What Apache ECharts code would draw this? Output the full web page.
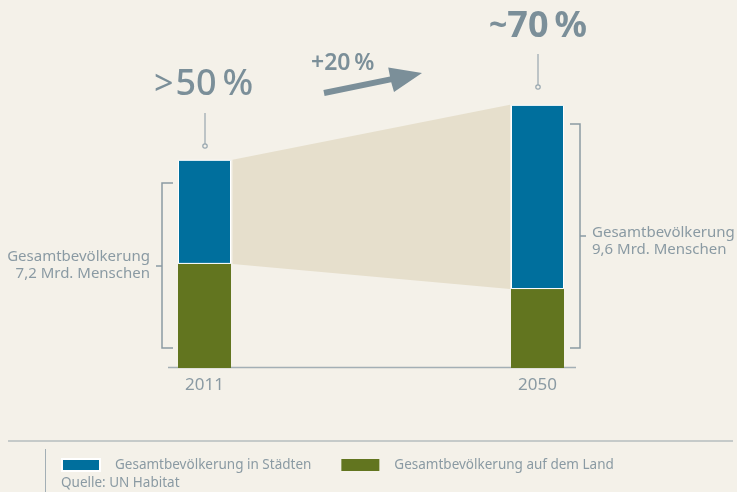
<!DOCTYPE html>
<html>
<head>
<meta charset="utf-8">
<script src="https://cdn.jsdelivr.net/npm/echarts@6/dist/echarts.min.js"></script>
<style>
  html, body { margin: 0; padding: 0; background: #f4f1e9; }
  #chart { width: 737px; height: 492px; }
</style>
</head>
<body>
<div id="chart"></div>
<script>
// Daten (Mrd. Menschen, wie im Bild gezeichnet)
const years = ['2011', '2050'];
const urban = [3.6, 6.37];
const rural = [3.6, 2.73];
const shareLabels = ['50', '70'];
const shareSigns = ['>', '~'];
const totalLabels = ['7,2 Mrd. Menschen', '9,6 Mrd. Menschen'];
const changeLabel = '+20\u2009%';
const seriesNames = ['Gesamtbevölkerung in Städten', 'Gesamtbevölkerung auf dem Land'];

const BLUE = '#006f9d';
const GREEN = '#62751f';
const BAND = '#e6dfcc';
const GREY = '#8a9aa3';
const DARK = '#7b8f99';
const BAR_W = 53;
const FONT = 'Noto Sans';

const chart = echarts.init(document.getElementById('chart'));

const option = {
  backgroundColor: '#f4f1e9',
  animation: false,
  textStyle: { fontFamily: FONT },
  grid: { left: 38, width: 666, top: 21, bottom: 124 },
  xAxis: {
    type: 'category',
    data: years,
    axisLine: { show: false },
    axisTick: { show: false },
    axisLabel: { color: GREY, fontSize: 17, margin: 9, fontFamily: FONT }
  },
  yAxis: { type: 'value', min: 0, max: 12, show: false },
  legend: {
    left: 56,
    top: 453,
    itemWidth: 38,
    itemHeight: 12,
    itemGap: 30,
    icon: 'rect',
    textStyle: { color: GREY, fontSize: 13.5, fontFamily: FONT, padding: [0, 0, 0, 10] },
    data: seriesNames
  },
  series: [
    {
      // Band zwischen den Stadt-Anteilen
      type: 'custom',
      z: 1,
      silent: true,
      data: [[0]],
      renderItem: function (params, api) {
        const a0 = api.coord([0, rural[0] + urban[0]]);
        const a1 = api.coord([0, rural[0]]);
        const b0 = api.coord([1, rural[1] + urban[1]]);
        const b1 = api.coord([1, rural[1]]);
        const x1 = a0[0] + BAR_W / 2 + 1.5;
        const x2 = b0[0] - BAR_W / 2 - 1;
        return {
          type: 'polygon',
          shape: { points: [[x1, a0[1]], [x2, b0[1]], [x2, b1[1]], [x1, a1[1]]] },
          style: { fill: BAND }
        };
      }
    },
    {
      name: seriesNames[1],
      type: 'bar',
      stack: 'pop',
      z: 2,
      barWidth: BAR_W,
      data: rural,
      itemStyle: { color: GREEN }
    },
    {
      name: seriesNames[0],
      type: 'bar',
      stack: 'pop',
      z: 3,
      barWidth: BAR_W,
      data: urban,
      itemStyle: { color: BLUE, borderColor: '#ffffff', borderWidth: 1 }
    }
  ],
  graphic: [
    // Grundlinie
    { type: 'line', shape: { x1: 168, y1: 367.5, x2: 576, y2: 367.5 }, style: { stroke: '#a3afb5', lineWidth: 1.5 } },
    // linke Klammer
    { type: 'polyline', shape: { points: [[173, 183], [162, 183], [162, 348], [173, 348]] }, style: { stroke: GREY, lineWidth: 1.5, fill: null } },
    { type: 'line', shape: { x1: 156, y1: 266, x2: 162, y2: 266 }, style: { stroke: GREY, lineWidth: 1.5 } },
    { type: 'text', style: { x: 150, y: 265, text: 'Gesamtbevölkerung\n' + totalLabels[0], align: 'right', verticalAlign: 'middle', fill: GREY, fontSize: 15, lineHeight: 17, fontFamily: FONT } },
    // rechte Klammer
    { type: 'polyline', shape: { points: [[570, 124], [580, 124], [580, 348], [570, 348]] }, style: { stroke: GREY, lineWidth: 1.5, fill: null } },
    { type: 'line', shape: { x1: 580, y1: 236, x2: 586, y2: 236 }, style: { stroke: GREY, lineWidth: 1.5 } },
    { type: 'text', style: { x: 592, y: 241, text: 'Gesamtbevölkerung\n' + totalLabels[1], align: 'left', verticalAlign: 'middle', fill: GREY, fontSize: 15, lineHeight: 17, fontFamily: FONT } },
    // Hinweislinien
    { type: 'line', shape: { x1: 205, y1: 113, x2: 205, y2: 144 }, style: { stroke: '#98a7af', lineWidth: 1.2 } },
    { type: 'circle', shape: { cx: 205, cy: 146, r: 2.2 }, style: { stroke: '#98a7af', lineWidth: 1.2, fill: '#f4f1e9' } },
    { type: 'line', shape: { x1: 538, y1: 54, x2: 538, y2: 85 }, style: { stroke: '#98a7af', lineWidth: 1.2 } },
    { type: 'circle', shape: { cx: 538, cy: 87, r: 2.2 }, style: { stroke: '#98a7af', lineWidth: 1.2, fill: '#f4f1e9' } },
    // Anteile
    {
      type: 'text',
      style: {
        x: 154, y: 85, align: 'left', verticalAlign: 'middle',
        text: '{s|' + shareSigns[0] + '}{n|' + shareLabels[0] + '\u2009%}',
        fill: DARK,
        rich: {
          s: { fontSize: 34, fill: DARK, fontFamily: FONT, padding: [0, 2, 0, 0] },
          n: { fontSize: 36, fill: DARK, fontFamily: FONT, fontWeight: 500 }
        }
      }
    },
    {
      type: 'text',
      style: {
        x: 489, y: 27, align: 'left', verticalAlign: 'middle',
        text: '{s|' + shareSigns[1] + '}{n|' + shareLabels[1] + '\u2009%}',
        fill: DARK,
        rich: {
          s: { fontSize: 32, fill: DARK, fontFamily: FONT, fontWeight: 'bold' },
          n: { fontSize: 36, fill: DARK, fontFamily: FONT, fontWeight: 'bold' }
        }
      }
    },
    { type: 'text', style: { x: 311, y: 63, text: changeLabel, align: 'left', verticalAlign: 'middle', fill: DARK, fontSize: 23, fontWeight: 600, fontFamily: FONT } },
    // Pfeil
    {
      type: 'polygon',
      shape: { points: [[324.6, 95.9], [391.2, 82.3], [394, 92], [422, 73], [388.2, 67.4], [390, 76.5], [323.4, 90.1]] },
      style: { fill: DARK }
    },
    // Fußbereich
    { type: 'line', shape: { x1: 8, y1: 441, x2: 733, y2: 441 }, style: { stroke: '#95a3aa', lineWidth: 1.2 } },
    { type: 'line', shape: { x1: 45.5, y1: 449, x2: 45.5, y2: 492 }, style: { stroke: '#a3afb5', lineWidth: 1 } },
    { type: 'text', style: { x: 61, y: 483, text: 'Quelle: UN Habitat', align: 'left', verticalAlign: 'middle', fill: GREY, fontSize: 13.5, fontFamily: FONT } }
  ]
};

chart.setOption(option);
</script>
</body>
</html>
